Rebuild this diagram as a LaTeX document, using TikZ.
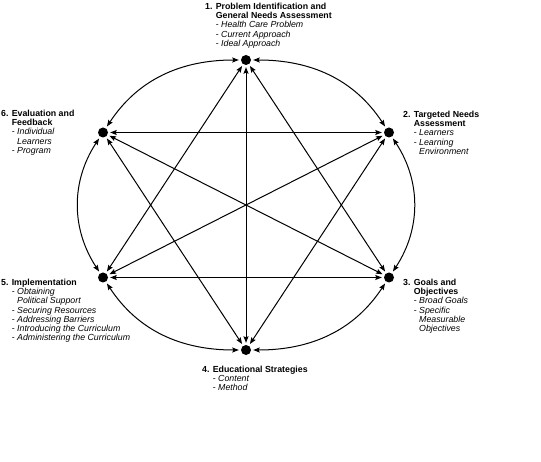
\documentclass[tikz,border=0pt]{standalone}
\usepackage{fontspec}
\setmainfont{Liberation Sans}
\usepackage{tikz}
\usetikzlibrary{positioning, arrows.meta}
\newcommand{\itm}[1]{\mdseries- \textit{#1}}
\newcommand{\itmc}[1]{\mdseries\phantom{- }\textit{#1}}
\tikzset{
    vertex/.style={circle, fill=black, inner sep=0pt, minimum size=10pt},
    link/.style={{Stealth[length=6.5pt, width=5pt, inset=1pt]}-{Stealth[length=6.5pt, width=5pt, inset=1pt]}, line width=1pt, shorten >=2pt, shorten <=2pt},
    stagelabel/.style={anchor=north west, inner sep=0pt, align=left, font=\fontsize{8.8}{9.15}\selectfont\bfseries}
}
\begin{document}
\begin{tikzpicture}[x=1pt, y=1pt]
        \useasboundingbox (0,0) rectangle (541,461);
        % stages on an ellipse round (246,256)
        \node[vertex] (n1) at (246,401) {};
        \node[vertex] (n2) at (389,328.5) {};
        \node[vertex] (n3) at (389,183.5) {};
        \node[vertex] (n4) at (246,111) {};
        \node[vertex] (n5) at (103,183.5) {};
        \node[vertex] (n6) at (103,328.5) {};

        % stage texts
        \node[stagelabel] (t1) at (205,458) {\begin{tabular}{@{}l@{ }l@{}}1.&Problem Identification and\\&General Needs Assessment\\&\itm{Health Care Problem}\\&\itm{Current Approach}\\&\itm{Ideal Approach}\end{tabular}};
        \node[stagelabel] (t2) at (403,350) {\begin{tabular}{@{}l@{ }l@{}}2.&Targeted Needs\\&Assessment\\&\itm{Learners}\\&\itm{Learning}\\&\itmc{Environment}\end{tabular}};
        \node[stagelabel] (t3) at (403,182) {\begin{tabular}{@{}l@{ }l@{}}3.&Goals and\\&Objectives\\&\itm{Broad Goals}\\&\itm{Specific}\\&\itmc{Measurable}\\&\itmc{Objectives}\end{tabular}};
        \node[stagelabel] (t4) at (202,95) {\begin{tabular}{@{}l@{ }l@{}}4.&Educational Strategies\\&\itm{Content}\\&\itm{Method}\end{tabular}};
        \node[stagelabel] (t5) at (1,182) {\begin{tabular}{@{}l@{ }l@{}}5.&Implementation\\&\itm{Obtaining}\\&\itmc{Political Support}\\&\itm{Securing Resources}\\&\itm{Addressing Barriers}\\&\itm{Introducing the Curriculum}\\&\itm{Administering the Curriculum}\end{tabular}};
        \node[stagelabel] (t6) at (1,351) {\begin{tabular}{@{}l@{ }l@{}}6.&Evaluation and\\&Feedback\\&\itm{Individual}\\&\itmc{Learners}\\&\itm{Program}\end{tabular}};

        % outer ring
        \draw[link] (n1) to[out=0, in=123.3] (n2);
        \draw[link] (n2) to[out=-56.7, in=56.7] (n3);
        \draw[link] (n3) to[out=236.7, in=0] (n4);
        \draw[link] (n4) to[out=180, in=303.3] (n5);
        \draw[link] (n5) to[out=123.3, in=236.7] (n6);
        \draw[link] (n6) to[out=56.7, in=180] (n1);

        % every other pair
        \draw[link] (n1) -- (n3);
        \draw[link] (n1) -- (n4);
        \draw[link] (n1) -- (n5);
        \draw[link] (n2) -- (n4);
        \draw[link] (n2) -- (n5);
        \draw[link] (n2) -- (n6);
        \draw[link] (n3) -- (n5);
        \draw[link] (n3) -- (n6);
        \draw[link] (n4) -- (n6);
    \end{tikzpicture}
\end{document}
